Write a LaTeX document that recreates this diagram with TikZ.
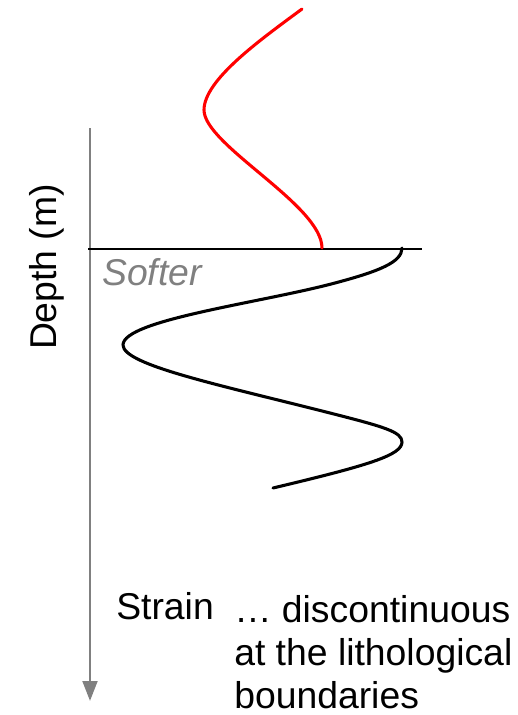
\documentclass[tikz,border=0pt]{standalone}
\usepackage{fontspec}
\setmainfont{Liberation Sans}
\usepackage{xcolor}
\usetikzlibrary{arrows.meta}
\definecolor{axisgray}{RGB}{128,128,128}
\definecolor{upred}{RGB}{255,0,0}
\newcommand{\lab}{\fontsize{28}{32}\selectfont}

\begin{document}
\begin{tikzpicture}[x=0.75pt, y=-0.75pt,
  txt/.style={font=\lab, inner sep=0pt},
  curve/.style={line width=2.3pt, line cap=round, line join=round}]
\useasboundingbox (0,0) rectangle (518,715);
% axis and boundary
\coordinate (top) at (90,128);
\coordinate (bot) at (90,701);
\coordinate (bl) at (88,249);
\coordinate (br) at (422,249);
\draw[axisgray, line width=2.2pt, -{Triangle[length=15pt, width=11pt]}] (top) -- (bot);
\draw[line width=1.5pt] (bl) -- (br);
% strain curves
\draw[curve, upred] (302,9) .. controls (260,40) and (204,80) .. (204,110)
  .. controls (204,145) and (322,205) .. (322,248);
\draw[curve] (402,248) .. controls (402,262) and (380,271) .. (335,283)
  .. controls (260,303) and (123,320) .. (123,345)
  .. controls (123,365) and (220,385) .. (330,413)
  .. controls (385,427) and (402,432) .. (402,442)
  .. controls (402,455) and (370,465) .. (273,488);
% labels
\node[txt, rotate=90, anchor=base] (depth) at (56,267) {Depth (m)};
\node[txt, anchor=base west, text=axisgray, font=\lab\itshape] (soft) at (102,285) {Softer};
\node[txt, anchor=base west] (strain) at (116,619) {Strain};
\node[txt, anchor=base west, align=left] (note) at (234,708)
  {… discontinuous\\at the lithological\\boundaries};
\end{tikzpicture}
\end{document}
